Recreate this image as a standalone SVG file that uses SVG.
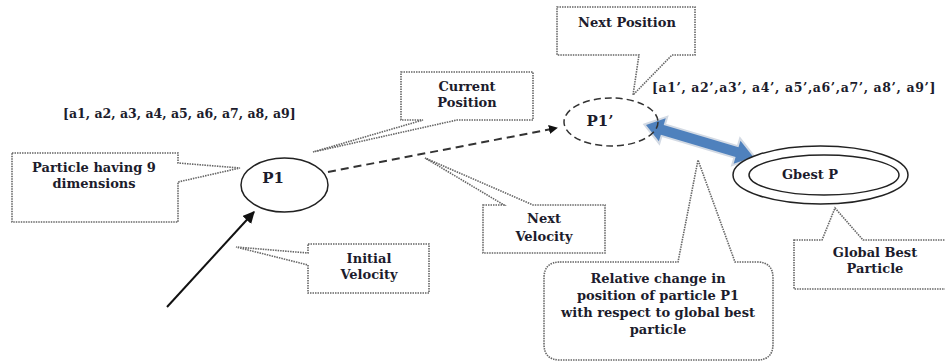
<svg xmlns="http://www.w3.org/2000/svg" width="945" height="362" viewBox="0 0 945 362">
<defs>
<style>
.t{font-family:'DejaVu Serif',serif;font-weight:bold;fill:#1c1c2c}
.lbl{font-size:13px;text-anchor:middle}
.arr{font-size:12.5px}
.call{fill:#fff;stroke:#666;stroke-width:1.6;stroke-dasharray:1.5 1}
.node{fill:#fff;stroke:#222;stroke-width:1.5}
</style>
<marker id="ah" viewBox="0 0 10 10" refX="9" refY="5" markerWidth="9" markerHeight="9" markerUnits="userSpaceOnUse" orient="auto">
<path d="M0,0 L10,5 L0,10 z" fill="#111"/>
</marker>
<marker id="ah2" viewBox="0 0 10 10" refX="9" refY="5" markerWidth="12" markerHeight="12" markerUnits="userSpaceOnUse" orient="auto">
<path d="M0,0 L10,5 L0,10 z" fill="#111"/>
</marker>
</defs>

<g id="connectors">
<line x1="167" y1="307" x2="254" y2="212" stroke="#111" stroke-width="2" marker-end="url(#ah2)"/>
<line x1="328" y1="172" x2="557" y2="128" stroke="#333" stroke-width="2" stroke-dasharray="8 5" marker-end="url(#ah)"/>
<g id="double-arrow" transform="translate(646,125) rotate(16.6)">
<polygon points="0,0 17,-12 17,-5 95,-5 95,-12 112,0 95,12 95,5 17,5 17,12" fill="#4f81bd" stroke="#d3dae4" stroke-width="4" stroke-linejoin="miter"/>
<polygon points="0,0 17,-12 17,-5 95,-5 95,-12 112,0 95,12 95,5 17,5 17,12" fill="#4f81bd"/>
</g>
</g>

<g class="t">
<g id="array1"><text class="arr" x="63" y="118">[a1, a2, a3, a4, a5, a6, a7, a8, a9]</text></g>
<g id="array2"><text class="arr" x="652" y="92" style="letter-spacing:0.6px">[a1’, a2’,a3’, a4’, a5’,a6’,a7’, a8’, a9’]</text></g>
</g>

<g id="callout-particle" class="t">
<path class="call" d="M12,153 H178 V163 L240,168 L178,182 V222 H12 Z"/>
<text class="lbl" x="94" y="172">Particle having 9</text>
<text class="lbl" x="94" y="188">dimensions</text>
</g>

<g id="callout-current" class="t">
<path class="call" d="M401,72 H533 V120 H457 L313,152 L423,120 H401 Z"/>
<text class="lbl" x="467" y="91">Current</text>
<text class="lbl" x="467" y="107">Position</text>
</g>

<g id="callout-initial" class="t">
<path class="call" d="M308,244 H429 V293 H308 V265 L236,247 L308,253 Z"/>
<text class="lbl" x="369" y="263">Initial</text>
<text class="lbl" x="369" y="279">Velocity</text>
</g>

<g id="callout-nextvel" class="t">
<path class="call" d="M483,205 H504 L425,158 L533,205 H605 V253 H483 Z"/>
<text class="lbl" x="544" y="223">Next</text>
<text class="lbl" x="544" y="241">Velocity</text>
</g>

<g id="callout-nextpos" class="t">
<path class="call" d="M557,7 H695 V55 H672 L633,95 L639,55 H557 Z"/>
<text class="lbl" x="627" y="27">Next Position</text>
</g>

<g id="callout-relative" class="t">
<path class="call" d="M560,262 H678 L698,160 L735,262 H757 Q773,262 773,278 V344 Q773,360 757,360 H560 Q544,360 544,344 V278 Q544,262 560,262 Z"/>
<text class="lbl" x="658" y="283">Relative change in</text>
<text class="lbl" x="658" y="300">position of particle P1</text>
<text class="lbl" x="658" y="317">with respect to global best</text>
<text class="lbl" x="658" y="334">particle</text>
</g>

<g id="callout-global" class="t">
<path class="call" d="M794,240 H822 L835,208 L863,240 H955 V289 H794 Z"/>
<text class="lbl" x="875" y="257">Global Best</text>
<text class="lbl" x="875" y="273">Particle</text>
</g>

<g id="node-p1" class="t">
<ellipse class="node" cx="284.5" cy="185" rx="43.5" ry="27"/>
<text x="273" y="183" style="font-size:15px;text-anchor:middle">P1</text>
</g>

<g id="node-p1prime" class="t">
<ellipse cx="611" cy="122" rx="47" ry="24" fill="none" stroke="#333" stroke-width="1.5" stroke-dasharray="7 4"/>
<text x="600" y="126" style="font-size:15px;text-anchor:middle">P1’</text>
</g>

<g id="node-gbest" class="t">
<ellipse class="node" cx="820.5" cy="175" rx="87.5" ry="29"/>
<ellipse cx="824" cy="175" rx="75" ry="20" fill="none" stroke="#222" stroke-width="1.5"/>
<text x="810" y="179" style="font-size:13px;text-anchor:middle">Gbest P</text>
</g>
</svg>
